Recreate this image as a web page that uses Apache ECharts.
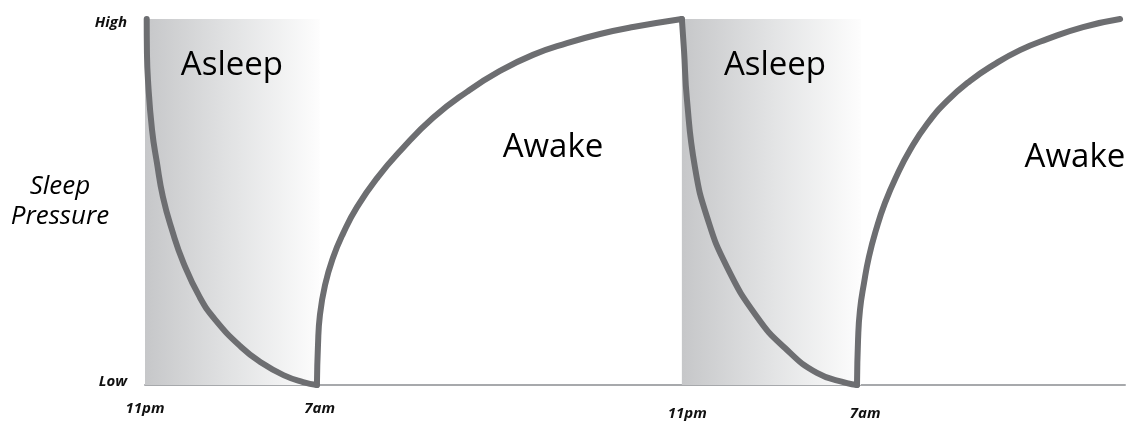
<!DOCTYPE html>
<html>
<head>
<meta charset="utf-8">
<script src="https://cdn.jsdelivr.net/npm/echarts@6/dist/echarts.min.js"></script>
<style>
  html, body { margin: 0; padding: 0; background: #fff; }
  #chart { width: 1131px; height: 425px; }
</style>
</head>
<body>
<div id="chart"></div>
<script>
// x = hours since 11pm (as drawn), y = sleep pressure 0 (Low) .. 100 (High)
var asleep1 = [[0.08, 100], [0.09, 91.5], [0.14, 83.3], [0.33, 69.7], [0.56, 60.7], [0.84, 51.4],
  [1.27, 42.3], [1.81, 33.3], [2.57, 24.0], [3.3, 17.8], [4.51, 10.4], [5.49, 6.0],
  [6.5, 2.7], [7.42, 0.8], [8.07, 0]]
var awake1 = [[8.07, 0], [8.12, 10.9], [8.21, 19.1], [8.45, 27.3], [8.82, 34.7], [9.29, 41.3],
  [9.95, 48.6], [10.93, 56.8], [12.02, 64.2], [13.52, 73.0], [15.11, 80.1], [16.66, 85.8],
  [18.21, 90.2], [19.81, 93.4], [21.36, 95.9], [22.91, 97.8], [25.2, 100]]
var asleep2 = [[25.2, 100], [25.3, 91.5], [25.44, 77.9], [25.81, 59.6], [26.38, 45.9],
  [27.32, 32.2], [28.73, 18.6], [30.04, 10.1], [31.54, 3.3], [32.95, 0.5], [33.42, 0]]
var awake2 = [[33.42, 0], [33.47, 12.3], [33.56, 20.5], [33.75, 27.9], [33.98, 35.0],
  [34.31, 42.3], [34.73, 49.7], [35.3, 57.4], [35.91, 64.2], [36.71, 71.3], [37.65, 77.6],
  [38.73, 83.1], [39.81, 87.4], [41.07, 91.5], [42.34, 94.5], [44.03, 97.8], [45.77, 100]]

var sleepSpans = [[0, 8.2], [25.2, 33.6]]
var xTicks = [0, 8.2, 25.45, 33.8]
var xTickLabels = ['11pm', '7am', '11pm', '7am']
var yTicks = [0, 100]
var yTickLabels = ['Low', 'High']
var phaseLabels = [
  { name: 'Asleep', value: [4.08, 87.4] },
  { name: 'Awake', value: [19.15, 64.8] },
  { name: 'Asleep', value: [29.57, 87.4] },
  { name: 'Awake', value: [43.65, 62.0] }
]

var chart = echarts.init(document.getElementById('chart'))

var shade = new echarts.graphic.LinearGradient(0, 0, 1, 0, [
  { offset: 0, color: '#c6c7c9' },
  { offset: 0.5, color: '#e2e3e4' },
  { offset: 1, color: '#fdfdfd' }
])

function curve (data) {
  return {
    type: 'line',
    data: data,
    smooth: 0.5,
    symbol: 'none',
    clip: false,
    silent: true,
    lineStyle: { color: '#6d6e71', width: 6, cap: 'round', join: 'round' },
    z: 3
  }
}

var tickFont = {
  fontFamily: 'Open Sans',
  fontStyle: 'italic',
  fontWeight: 'bold',
  fontSize: 15,
  color: '#111'
}

var series = [asleep1, awake1, asleep2, awake2].map(curve)
series[0].markArea = {
  silent: true,
  itemStyle: { color: shade },
  data: sleepSpans.map(function (s) {
    return [{ xAxis: s[0], yAxis: 0 }, { xAxis: s[1], yAxis: 100 }]
  })
}
series.push({
  type: 'scatter',
  data: phaseLabels,
  symbolSize: 0,
  silent: true,
  z: 5,
  itemStyle: { opacity: 1 },
  label: {
    show: true,
    position: 'inside',
    formatter: '{b}',
    fontFamily: 'Open Sans',
    fontSize: 33,
    color: '#000'
  }
})

var option = {
  animation: false,
  grid: { left: 145, right: 6, top: 19, bottom: 40, containLabel: false, outerBoundsMode: 'none' },
  xAxis: {
    type: 'value',
    min: 0,
    max: 46,
    axisLine: { show: true, lineStyle: { color: '#a7a9ac', width: 2 } },
    axisTick: { show: false },
    splitLine: { show: false },
    axisLabel: Object.assign({
      customValues: xTicks,
      margin: 16,
      formatter: function (v) {
        var i = xTicks.indexOf(v)
        if (i < 0) return ''
        return (i < 2 ? '{a|' : '{b|') + xTickLabels[i] + '}'
      },
      rich: {
        a: Object.assign({}, tickFont),
        b: Object.assign({ padding: [5, 0, 0, 0] }, tickFont)
      }
    }, tickFont)
  },
  yAxis: {
    type: 'value',
    min: 0,
    max: 100,
    interval: 100,
    name: 'Sleep\nPressure',
    nameLocation: 'middle',
    nameRotate: 0,
    nameGap: 85,
    nameMoveOverlap: false,
    nameTextStyle: {
      fontFamily: 'Open Sans',
      fontStyle: 'italic',
      fontSize: 26,
      lineHeight: 30,
      align: 'center',
      color: '#000'
    },
    axisLine: { show: true, lineStyle: { color: '#bcbec0', width: 1 } },
    axisTick: { show: false },
    splitLine: { show: false },
    axisLabel: Object.assign({
      margin: 18,
      formatter: function (v) {
        var i = yTicks.indexOf(v)
        if (i < 0) return ''
        return (i === 0 ? '{lo|' : '{hi|') + yTickLabels[i] + '}'
      },
      rich: {
        lo: Object.assign({ padding: [0, 0, 6, 0] }, tickFont),
        hi: Object.assign({ padding: [8, 0, 0, 0] }, tickFont)
      }
    }, tickFont)
  },
  series: series
}

chart.setOption(option)
</script>
</body>
</html>
